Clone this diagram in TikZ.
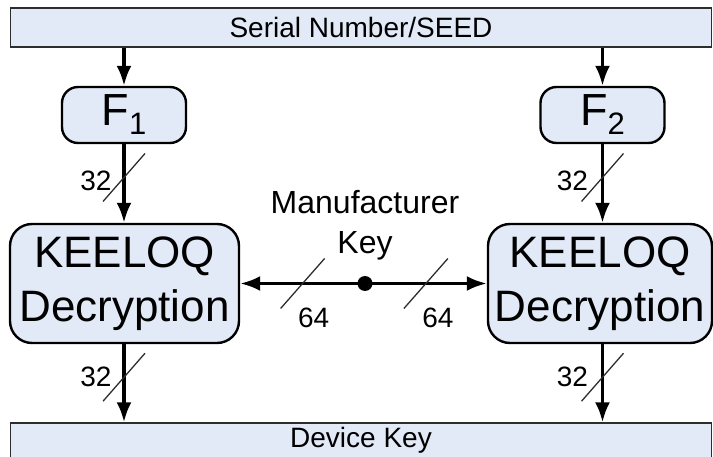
\documentclass[tikz,border=0pt]{standalone}
\usepackage{fontspec}
\setmainfont{Liberation Sans}
\usepackage{tikz}
\usetikzlibrary{calc}
\usetikzlibrary{arrows.meta}
\usetikzlibrary{positioning}
\definecolor{boxfill}{RGB}{226,234,247}
\definecolor{boxline}{RGB}{45,45,45}
\tikzset{>={Latex[length=20pt,width=15pt]}}
\tikzstyle{bar} = [rectangle, draw=boxline, fill=boxfill, line width=1.4pt, minimum width=701pt, minimum height=39pt, inner sep=0pt, font=\fontsize{28}{30}\selectfont]
\tikzstyle{func} = [rectangle, rounded corners=16pt, draw=black, fill=boxfill, line width=2.4pt, minimum width=124pt, minimum height=56pt, inner sep=0pt, font=\fontsize{45}{50}\selectfont]
\tikzstyle{cipher} = [rectangle, rounded corners=22pt, draw=black, fill=boxfill, line width=2.4pt, minimum width=229pt, minimum height=119pt, inner sep=0pt, align=center, font=\fontsize{44}{54}\selectfont]
\tikzstyle{bus} = [->, line width=3.4pt]
\tikzstyle{slash} = [line width=1.3pt, draw=boxline]
\tikzstyle{bits} = [inner sep=0pt, font=\fontsize{28}{30}\selectfont]

\begin{document}
\begin{tikzpicture}[x=1pt, y=-1pt]
\useasboundingbox (0,0) rectangle (713,457);
% boxes
\node [bar] (SN) at (361,27.5) {Serial Number/SEED};
\node [bar] (DK) at (361,442.5) {\raisebox{10pt}{Device Key}};
\node [func] (F1) at (124,115) {F\raisebox{-9pt}{\fontsize{31}{31}\selectfont 1}};
\node [func] (F2) at (602.5,115) {F\raisebox{-9pt}{\fontsize{31}{31}\selectfont 2}};
\node [cipher] (KL) at (124.5,283.5) {KEELOQ\\Decryption};
\node [cipher, minimum width=224pt] (KR) at (600,283.5) {KEELOQ\\Decryption};
\node [circle, fill=black, inner sep=0pt, minimum size=15pt] (MK) at (365,283.5) {};
\node [align=center, inner sep=0pt, font=\fontsize{32}{40}\selectfont] (MT) at (365,225) {Manufacturer\\Key};
% connectors
\draw [bus] (SN.south -| F1.north) -- (F1.north);
\draw [bus] (SN.south -| F2.north) -- (F2.north);
\draw [bus] (F1.south) -- (F1.south |- KL.north);
\draw [bus] (F2.south) -- (F2.south |- KR.north);
\draw [bus] (F1.south |- KL.south) -- (F1.south |- DK.north);
\draw [bus] (F2.south |- KR.south) -- (F2.south |- DK.north);
\draw [bus] (MK.center) -- (KL.east);
\draw [bus] (MK.center) -- (KR.west);
% bus widths
\draw [slash] ($(F1.south)!0.5!(F1.south |- KL.north)+(0,-6)$) ++(-21,24) -- ++(42,-48);
\draw [slash] ($(F2.south)!0.5!(F2.south |- KR.north)+(0,-6)$) ++(-21,24) -- ++(42,-48);
\draw [slash] ($(F1.south |- KL.south)!0.5!(F1.south |- DK.north)+(0,-6)$) ++(-21,24) -- ++(42,-48);
\draw [slash] ($(F2.south |- KR.south)!0.5!(F2.south |- DK.north)+(0,-6)$) ++(-21,24) -- ++(42,-48);
\draw [slash] ($(MK.center)!0.5!(KL.east)$) ++(-22,25) -- ++(44,-50);
\draw [slash] ($(MK.center)!0.5!(KR.west)$) ++(-22,25) -- ++(44,-50);
\node [bits] at ($(F1.south)!0.5!(F1.south |- KL.north)+(-28,-3)$) {32};
\node [bits] at ($(F2.south)!0.5!(F2.south |- KR.north)+(-30,-3)$) {32};
\node [bits] at ($(F1.south |- KL.south)!0.5!(F1.south |- DK.north)+(-28,-6)$) {32};
\node [bits] at ($(F2.south |- KR.south)!0.5!(F2.south |- DK.north)+(-30,-6)$) {32};
\node [bits] at ($(MK.center)!0.5!(KL.east)+(11,34)$) {64};
\node [bits] at ($(MK.center)!0.5!(KR.west)+(12,34)$) {64};
\end{tikzpicture}
\end{document}
